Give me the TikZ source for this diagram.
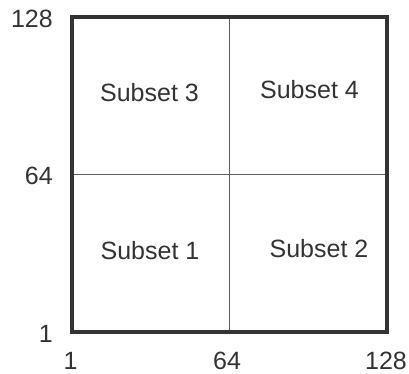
\documentclass[tikz,border=0pt]{standalone}
\usepackage{fontspec}
\setmainfont{Liberation Sans}
\usepackage{xcolor}
\definecolor{gridDark}{RGB}{51,51,51}
\definecolor{gridGray}{RGB}{95,95,95}
\usepackage{tikz}

\begin{document}
\begin{tikzpicture}[x=1pt, y=-1pt, every node/.style={text=gridDark, inner sep=0pt, font=\fontsize{25}{30}\selectfont}]
\useasboundingbox (0,0) rectangle (409,374);
% quadrant lines and frame
\draw[gridGray, line width=1pt] (229.5,17) -- (229.5,332);
\draw[gridGray, line width=1pt] (72,174.5) -- (387,174.5);
\draw[gridDark, line width=4pt] (72,17) rectangle (387,332);
% subsets
\node (sub3) at (149.5,92.5) {Subset 3};
\node (sub4) at (309.5,90) {Subset 4};
\node (sub1) at (150,250.5) {Subset 1};
\node (sub2) at (319,248.5) {Subset 2};
% axis labels
\node[anchor=east] (ytop) at (53,18.5) {128};
\node[anchor=east] (ymid) at (53,175.5) {64};
\node[anchor=east] (ybot) at (53,334) {1};
\node (xleft) at (70.5,361) {1};
\node (xmid) at (227,361) {64};
\node (xright) at (386,361) {128};
\end{tikzpicture}
\end{document}
